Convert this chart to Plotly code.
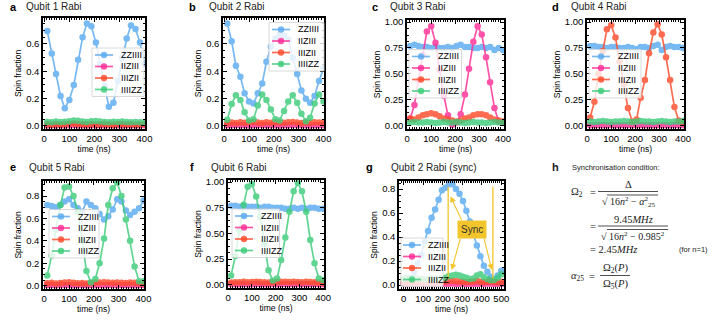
import plotly.graph_objects as go
from plotly.subplots import make_subplots

W, H = 721, 320


def X(p):
    return p / W


def Y(p):
    return 1 - p / H


# time axes (ns)
t = [12, 30, 47, 65, 82, 100, 118, 135, 153, 170, 188, 206, 223, 241, 258, 276, 294, 311, 329, 346, 364, 382, 400]
t_sync = [0, 18, 36, 54, 71, 89, 107, 125, 143, 161, 179, 196, 214, 232, 250, 268, 286, 304, 321, 339, 357, 375,
          393, 411, 429, 446, 464, 482, 500]

labels = ["ZZIIII", "IIZIII", "IIIZII", "IIIIZZ"]
colors = ["#5aaaf0", "#ff2d96", "#ff4b2b", "#3dcc7a"]

# a - Qubit 1 Rabi
a_zzi = [0.695, 0.53, 0.38, 0.22, 0.13, 0.19, 0.30, 0.485, 0.65, 0.75, 0.73, 0.61, 0.45, 0.29, 0.14, 0.17, 0.33, 0.50, 0.64, 0.735, 0.71, 0.61, 0.455]
a_izi = [0.004, 0.005, 0.003, 0.006, 0.004, 0.005, 0.007, 0.004, 0.005, 0.003, 0.006, 0.004, 0.005, 0.004, 0.006, 0.003, 0.005, 0.004, 0.006, 0.005, 0.004, 0.003, 0.005]
a_iiz = [0.012, 0.010, 0.014, 0.011, 0.013, 0.016, 0.018, 0.015, 0.012, 0.011, 0.013, 0.010, 0.012, 0.014, 0.011, 0.010, 0.013, 0.012, 0.011, 0.012, 0.010, 0.011, 0.012]
a_izz = [0.030, 0.028, 0.032, 0.029, 0.031, 0.035, 0.040, 0.038, 0.033, 0.030, 0.034, 0.036, 0.033, 0.030, 0.028, 0.031, 0.030, 0.032, 0.029, 0.027, 0.030, 0.028, 0.029]

# b - Qubit 2 Rabi
b_zzi = [0.75, 0.62, 0.44, 0.36, 0.24, 0.18, 0.165, 0.24, 0.31, 0.47, 0.58, 0.64, 0.67, 0.66, 0.63, 0.50, 0.38, 0.26, 0.20, 0.17, 0.22, 0.33, 0.42]
b_izi = [0.006, 0.005, 0.007, 0.005, 0.006, 0.004, 0.006, 0.005, 0.007, 0.005, 0.006, 0.005, 0.004, 0.006, 0.005, 0.007, 0.005, 0.006, 0.005, 0.004, 0.006, 0.005, 0.006]
b_iiz = [0.020, 0.025, 0.022, 0.028, 0.024, 0.026, 0.030, 0.025, 0.022, 0.027, 0.024, 0.028, 0.026, 0.023, 0.027, 0.030, 0.025, 0.022, 0.026, 0.024, 0.028, 0.025, 0.027]
b_izz = [0.045, 0.16, 0.225, 0.19, 0.10, 0.04, 0.05, 0.15, 0.23, 0.19, 0.12, 0.05, 0.04, 0.11, 0.18, 0.225, 0.17, 0.09, 0.035, 0.06, 0.165, 0.23, 0.18]

# c - Qubit 3 Rabi
c_zzi = [0.77, 0.78, 0.77, 0.76, 0.76, 0.75, 0.76, 0.75, 0.75, 0.76, 0.75, 0.77, 0.78, 0.76, 0.76, 0.75, 0.75, 0.76, 0.75, 0.76, 0.73, 0.75, 0.73]
c_izi = [0.07, 0.20, 0.44, 0.68, 0.91, 0.96, 0.80, 0.54, 0.29, 0.10, 0.01, 0.03, 0.11, 0.30, 0.55, 0.81, 0.96, 0.88, 0.66, 0.42, 0.17, 0.04, 0.03]
c_iiz = [0.07, 0.06, 0.08, 0.10, 0.11, 0.12, 0.11, 0.09, 0.07, 0.06, 0.05, 0.04, 0.05, 0.07, 0.08, 0.10, 0.11, 0.11, 0.10, 0.08, 0.06, 0.05, 0.04]
c_izz = [0.030, 0.035, 0.030, 0.030, 0.035, 0.030, 0.025, 0.030, 0.035, 0.030, 0.030, 0.035, 0.030, 0.025, 0.030, 0.035, 0.030, 0.030, 0.025, 0.030, 0.035, 0.030, 0.030]

# d - Qubit 4 Rabi
d_zzi = [0.77, 0.77, 0.76, 0.76, 0.75, 0.76, 0.76, 0.75, 0.75, 0.76, 0.75, 0.74, 0.76, 0.76, 0.75, 0.77, 0.78, 0.73, 0.76, 0.77, 0.76, 0.76, 0.75]
d_izi = [0.005, 0.004, 0.006, 0.005, 0.004, 0.006, 0.005, 0.004, 0.005, 0.006, 0.004, 0.005, 0.006, 0.005, 0.004, 0.005, 0.006, 0.004, 0.005, 0.004, 0.006, 0.005, 0.004]
d_iiz = [0.08, 0.23, 0.50, 0.72, 0.93, 0.97, 0.85, 0.62, 0.40, 0.17, 0.04, 0.06, 0.27, 0.44, 0.70, 0.90, 0.98, 0.88, 0.66, 0.44, 0.18, 0.05, 0.03]
d_izz = [0.040, 0.035, 0.040, 0.045, 0.040, 0.035, 0.040, 0.040, 0.045, 0.040, 0.035, 0.040, 0.045, 0.040, 0.040, 0.035, 0.040, 0.045, 0.040, 0.035, 0.040, 0.040, 0.045]

# e - Qubit 5 Rabi
e_zzi = [0.72, 0.71, 0.70, 0.72, 0.75, 0.77, 0.72, 0.69, 0.66, 0.75, 0.72, 0.69, 0.64, 0.59, 0.62, 0.68, 0.77, 0.75, 0.67, 0.63, 0.66, 0.69, 0.76]
e_izi = [0.005, 0.006, 0.004, 0.005, 0.006, 0.005, 0.004, 0.006, 0.005, 0.004, 0.005, 0.006, 0.005, 0.004, 0.006, 0.005, 0.004, 0.005, 0.006, 0.005, 0.004, 0.005, 0.006]
e_iiz = [0.022, 0.025, 0.020, 0.024, 0.027, 0.030, 0.025, 0.022, 0.024, 0.020, 0.023, 0.026, 0.028, 0.030, 0.027, 0.025, 0.029, 0.026, 0.024, 0.027, 0.025, 0.022, 0.020]
e_izz = [0.09, 0.27, 0.50, 0.72, 0.875, 0.885, 0.80, 0.66, 0.40, 0.13, 0.03, 0.06, 0.20, 0.42, 0.72, 0.87, 0.92, 0.80, 0.59, 0.40, 0.17, 0.04, 0.04]

# f - Qubit 6 Rabi
f_zzi = [0.77, 0.77, 0.76, 0.77, 0.76, 0.76, 0.76, 0.75, 0.76, 0.76, 0.75, 0.75, 0.75, 0.74, 0.74, 0.75, 0.74, 0.75, 0.74, 0.75, 0.75, 0.74, 0.74]
f_izi = [0.006, 0.005, 0.004, 0.006, 0.005, 0.004, 0.006, 0.005, 0.004, 0.005, 0.006, 0.004, 0.005, 0.006, 0.005, 0.004, 0.006, 0.005, 0.004, 0.005, 0.006, 0.005, 0.004]
f_iiz = [0.022, 0.025, 0.023, 0.028, 0.024, 0.026, 0.030, 0.027, 0.024, 0.022, 0.025, 0.027, 0.030, 0.028, 0.026, 0.029, 0.027, 0.025, 0.028, 0.026, 0.024, 0.022, 0.020]
f_izz = [0.09, 0.28, 0.53, 0.78, 0.955, 0.98, 0.86, 0.66, 0.40, 0.14, 0.04, 0.06, 0.24, 0.46, 0.71, 0.91, 0.99, 0.91, 0.71, 0.435, 0.21, 0.06, 0.045]

# g - Qubit 2 Rabi (sync), 0-500 ns
g_zzi = [0.02, 0.04, 0.06, 0.11, 0.18, 0.25, 0.36, 0.45, 0.56, 0.63, 0.71, 0.79, 0.81, 0.84, 0.84, 0.80, 0.76, 0.70,
         0.62, 0.53, 0.42, 0.33, 0.24, 0.16, 0.11, 0.07, 0.05, 0.08, 0.12]
g_izi = [0.010, 0.008, 0.011, 0.009, 0.010, 0.012, 0.009, 0.010, 0.011, 0.008, 0.010, 0.009, 0.011, 0.010, 0.012,
         0.009, 0.010, 0.011, 0.009, 0.010, 0.008, 0.011, 0.010, 0.009, 0.012, 0.010, 0.009, 0.011, 0.010]
g_iiz = [0.025, 0.022, 0.028, 0.024, 0.026, 0.023, 0.027, 0.025, 0.022, 0.026, 0.024, 0.028, 0.030, 0.033, 0.035,
         0.032, 0.030, 0.027, 0.025, 0.028, 0.030, 0.033, 0.028, 0.025, 0.027, 0.030, 0.026, 0.024, 0.028]
g_izz = [0.050, 0.060, 0.050, 0.060, 0.050, 0.050, 0.045, 0.050, 0.055, 0.050, 0.050, 0.055, 0.060, 0.075, 0.080,
         0.085, 0.080, 0.070, 0.060, 0.050, 0.055, 0.080, 0.090, 0.065, 0.050, 0.040, 0.045, 0.060, 0.090]

panels = [
    # letter, title, x, series, xrange, yrange, dtick, fmt, xdom(px), ydom(px), legend(x0, y_first, w)
    ("a", "Qubit 1 Rabi", t, [a_zzi, a_izi, a_iiz, a_izz], [-5, 402], [-0.022, 0.79], 0.2, ".1f", (43, 145), (18, 129), (92, 55, 52)),
    ("b", "Qubit 2 Rabi", t, [b_zzi, b_izi, b_iiz, b_izz], [-5, 402], [-0.022, 0.79], 0.2, ".1f", (223, 324), (18, 129), (269, 29.5, 55)),
    ("c", "Qubit 3 Rabi", t, [c_zzi, c_izi, c_iiz, c_izz], [-1, 404], [-0.032, 1.02], 0.25, ".2f", (407, 504), (20, 129), (409, 56.5, 52.5)),
    ("d", "Qubit 4 Rabi", t, [d_zzi, d_izi, d_iiz, d_izz], [-1, 404], [-0.032, 1.02], 0.25, ".2f", (587, 684), (20, 129), (589, 56.5, 52)),
    ("e", "Qubit 5 Rabi", t, [e_zzi, e_izi, e_iiz, e_izz], [-5, 402], [-0.03, 0.934], 0.2, ".1f", (43, 144), (181, 289), (49, 216.5, 50)),
    ("f", "Qubit 6 Rabi", t, [f_zzi, f_izi, f_iiz, f_izz], [-1, 404], [-0.032, 1.02], 0.25, ".2f", (228, 324), (180, 288), (232, 216, 47.5)),
    ("g", "Qubit 2 Rabi (sync)", t_sync, [g_zzi, g_izi, g_iiz, g_izz], [-24, 514], [-0.033, 0.867], 0.2, ".1f", (399, 504), (181, 289), (401, 245, 42)),
]
cells = [(1, 1), (1, 2), (1, 3), (1, 4), (2, 1), (2, 2), (2, 3)]
# left edge of panel letter / title text (px)
letter_x = [8, 187, 370, 550, 8, 188, 364]
title_x = [24, 207, 388, 569, 27, 209, 389]

fig = make_subplots(rows=2, cols=4, specs=[[{}, {}, {}, {}], [{}, {}, {}, None]])

SANS = "Liberation Sans, Arial, sans-serif"
SERIF = "Liberation Serif, DejaVu Serif, serif"

shapes = []
annotations = []

for k, (letter, title, xs, series, xr, yr, dt, fmt, xd, yd, leg) in enumerate(panels):
    row, col = cells[k]
    for name, color, ys in zip(labels, colors, series):
        fig.add_trace(go.Scatter(x=xs, y=ys, mode="lines+markers", name=name, showlegend=False,
                                 line=dict(color=color, width=1.7),
                                 marker=dict(color=color, size=6.5, line=dict(width=0)),
                                 opacity=0.82), row=row, col=col)
    sfx = "" if k == 0 else str(k + 1)
    fig.layout["xaxis" + sfx].update(
        domain=[X(xd[0]), X(xd[1])], range=xr, dtick=100, tick0=0, automargin=False,
        showline=True, linecolor="black", linewidth=1.5, mirror="allticks",
        ticks="inside", ticklen=4, tickwidth=1, tickcolor="black",
        minor=dict(ticks="inside", ticklen=2, dtick=10, tickcolor="black", tickwidth=0.8),
        showgrid=False, zeroline=False,
        tickfont=dict(family=SANS, size=9.5, color="black"),
        title=dict(text="time (ns)", font=dict(family=SANS, size=8.5, color="black"), standoff=2))
    fig.layout["yaxis" + sfx].update(
        domain=[Y(yd[1]), Y(yd[0])], range=yr, dtick=dt, tick0=0, tickformat=fmt, automargin=False,
        showline=True, linecolor="black", linewidth=1.5, mirror="allticks",
        ticks="inside", ticklen=4, tickwidth=1, tickcolor="black",
        minor=dict(ticks="inside", ticklen=2, dtick=dt / 4, tickcolor="black", tickwidth=0.8),
        showgrid=False, zeroline=False,
        tickfont=dict(family=SANS, size=9.5, color="black"),
        title=dict(text="Spin fraction", font=dict(family=SANS, size=8.5, color="black"), standoff=3))

    # panel letter and title
    head_y = 7 if k < 4 else 167
    annotations.append(dict(text="<b>%s</b>" % letter, x=X(letter_x[k]), y=Y(head_y),
                            xref="paper", yref="paper", xanchor="left", yanchor="middle", showarrow=False,
                            font=dict(family=SANS, size=11, color="black")))
    annotations.append(dict(text=title, x=X(title_x[k]), y=Y(head_y),
                            xref="paper", yref="paper", xanchor="left", yanchor="middle", showarrow=False,
                            font=dict(family=SANS, size=10, color="#222")))

    # legend box drawn by hand (compact matplotlib-like spacing)
    x0, yf, w = leg
    lo, to = (2, 25) if letter == "g" else (3, 27)
    step = 11.5
    shapes.append(dict(type="rect", xref="paper", yref="paper", layer="above",
                       x0=X(x0), x1=X(x0 + w), y0=Y(yf - 7), y1=Y(yf + 3 * step + 7),
                       fillcolor="rgba(255,255,255,0.8)", line=dict(color="#cfcfcf", width=0.8)))
    for i, (name, color) in enumerate(zip(labels, colors)):
        yy = yf + i * step
        shapes.append(dict(type="line", xref="paper", yref="paper", layer="above",
                           x0=X(x0 + lo), x1=X(x0 + lo + 18), y0=Y(yy), y1=Y(yy),
                           line=dict(color=color, width=1.7), opacity=0.82))
        cx = x0 + lo + 9
        shapes.append(dict(type="circle", xref="paper", yref="paper", layer="above",
                           x0=X(cx - 3.2), x1=X(cx + 3.2), y0=Y(yy + 3.2), y1=Y(yy - 3.2),
                           fillcolor=color, line=dict(width=0), opacity=0.82))
        annotations.append(dict(text=name, x=X(x0 + to), y=Y(yy), xref="paper", yref="paper",
                                xanchor="left", yanchor="middle", showarrow=False,
                                font=dict(family=SANS, size=9, color="black")))

# g: sync markers
gold = "#f2c52c"
for tx in [228, 457]:
    shapes.append(dict(type="line", xref="x7", yref="y7", x0=tx, x1=tx, y0=0.055, y1=0.82,
                       line=dict(color=gold, width=1.3)))
annotations.append(dict(text="Sync", x=348, y=0.467, xref="x7", yref="y7", showarrow=False,
                        bgcolor=gold, borderpad=3, font=dict(family=SANS, size=10, color="#333")))
for (hx, hy, tx, ty) in [(240, 0.74, 300, 0.53), (246, 0.125, 292, 0.40), (452, 0.125, 410, 0.40)]:
    annotations.append(dict(text="", x=hx, y=hy, ax=tx, ay=ty, xref="x7", yref="y7", axref="x7", ayref="y7",
                            showarrow=True, arrowhead=2, arrowsize=1.1, arrowwidth=1.1, arrowcolor=gold))


# h: synchronisation condition, typeset by hand
def txt(s, x, y, anchor="center", size=10.5, family=SERIF):
    annotations.append(dict(text=s, x=X(x), y=Y(y), xref="paper", yref="paper", xanchor=anchor,
                            yanchor="middle", showarrow=False, font=dict(family=family, size=size, color="#222")))


def hline(x0, x1, y, width=0.8):
    shapes.append(dict(type="line", xref="paper", yref="paper", x0=X(x0), x1=X(x1), y0=Y(y), y1=Y(y),
                       line=dict(color="#222", width=width)))


txt("<b>h</b>", 550, 167, "left", 11, SANS)
txt("Synchronisation condition:", 570, 167, "left", 7.5, SANS)

txt("Ω<sub>2</sub>", 569, 192, "left")
txt("=", 593, 192)
txt("Δ", 628, 184)
hline(598, 658, 191.5)
txt("√ 16<i>n</i><sup>2</sup> − <i>α</i><sup>2</sup><sub>25</sub>", 628, 201.5, size=10)
hline(607, 658, 195)

txt("=", 593, 226)
txt("9.45<i>MHz</i>", 633, 219)
hline(598, 668, 226)
txt("√ 16<i>n</i><sup>2</sup> − 0.985<sup>2</sup>", 633, 235.5, size=10)
hline(607, 668, 229.5)

txt("= 2.45<i>MHz</i>", 588, 249, "left")
txt("(for n=1)", 677, 249, "left", 7.5, SANS)

txt("<i>α</i><sub>25</sub>", 569, 276, "left")
txt("=", 592, 276)
txt("Ω<sub>2</sub>(<i>P</i>)", 615, 268)
hline(600, 630, 275.5)
txt("Ω<sub>5</sub>(<i>P</i>)", 615, 284)

fig.update_layout(width=W, height=H, margin=dict(l=0, r=0, t=0, b=0),
                  plot_bgcolor="white", paper_bgcolor="white",
                  font=dict(family=SANS, color="black"),
                  shapes=shapes, annotations=annotations, showlegend=False)

# drop the page's default body margin so the figure sits at the window's corner
fig.write_html("out.html", config={"displayModeBar": False},
               post_script="document.body.style.margin = '0';")
